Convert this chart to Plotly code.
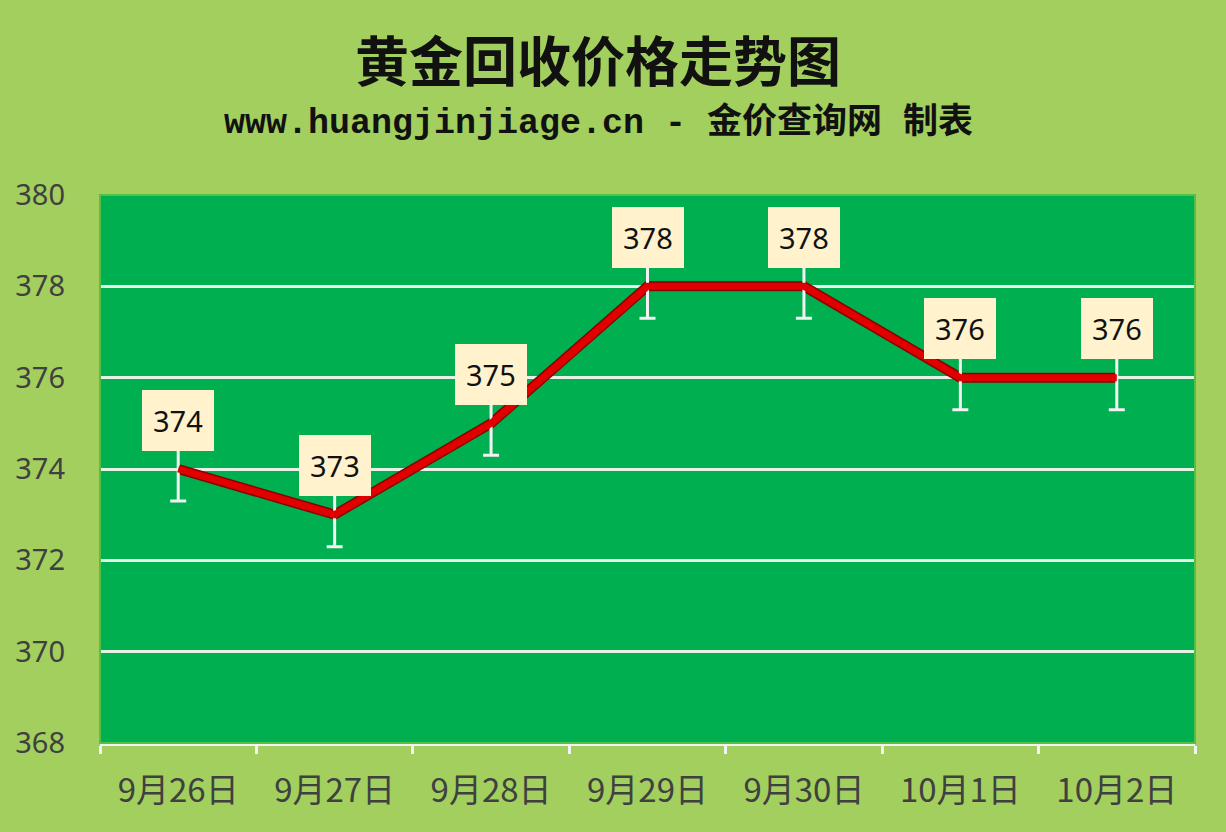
import plotly.graph_objects as go

categories = ["9月26日", "9月27日", "9月28日", "9月29日", "9月30日", "10月1日", "10月2日"]
prices = [374, 373, 375, 378, 378, 376, 376]
err = [0.7] * 7
y_ticks = [368, 370, 372, 374, 376, 378, 380]
title_text = "黄金回收价格走势图"
subtitle_text = "www.huangjinjiage.cn - 金价查询网 制表"

fig = go.Figure()
fig.add_trace(go.Scatter(
    x=categories, y=prices, mode="lines",
    line=dict(color="#8B0000", width=10),
    hoverinfo="skip", showlegend=False,
))
fig.add_trace(go.Scatter(
    x=categories, y=prices, mode="lines",
    line=dict(color="#E00000", width=7),
    error_y=dict(type="data", array=err, visible=True, color="#F2F2F2", thickness=3, width=8),
    showlegend=False,
))

for c, v in zip(categories, prices):
    fig.add_annotation(
        x=c, y=v, text=str(v), showarrow=False, yshift=49,
        font=dict(family="Noto Sans, DejaVu Sans", size=29, color="#111111"),
        bgcolor="#FFF2CC", borderpad=10, bordercolor="#FFF2CC",
    )

fig.add_annotation(
    xref="paper", yref="paper", x=0.455, y=1.0, yshift=137, xanchor="center", yanchor="middle",
    text="<b>" + title_text + "</b>", showarrow=False,
    font=dict(family="Noto Sans CJK SC", size=54, color="#111111"),
)
fig.add_annotation(
    xref="paper", yref="paper", x=0.455, y=1.0, yshift=72, xanchor="center", yanchor="middle",
    text="<b>" + subtitle_text + "</b>", showarrow=False,
    font=dict(family="Liberation Mono, DejaVu Sans Mono, Noto Sans CJK SC", size=35, color="#111111"),
)

fig.update_layout(
    width=1226, height=832,
    paper_bgcolor="#A2CF5E",
    plot_bgcolor="#00B050",
    margin=dict(l=100, r=31, t=195, b=89),
    xaxis=dict(
        type="category", showgrid=False,
        showline=True, linecolor="#F2F2F2", linewidth=3,
        ticks="outside", tickcolor="#F2F2F2", tickwidth=3, ticklen=8,
        tickson="boundaries",
        tickfont=dict(family="Noto Sans CJK SC", size=33, color="#404040"),
        ticklabelstandoff=16,
        range=[-0.5, 6.5],
    ),
    yaxis=dict(
        range=[368, 380], tickvals=y_ticks,
        showgrid=True, gridcolor="#E6F2E6", gridwidth=3,
        zeroline=False, showline=False,
        tickfont=dict(family="Noto Sans", size=29, color="#404040"),
        ticklabelstandoff=34,
    ),
    shapes=[dict(type="rect", xref="paper", yref="paper", x0=0, x1=1, y0=0, y1=1,
                 line=dict(color="#55C046", width=2), fillcolor="rgba(0,0,0,0)", layer="above")],
)

fig.write_html("out.html", config={"displayModeBar": False},
               post_script="document.body.style.margin='0';")
